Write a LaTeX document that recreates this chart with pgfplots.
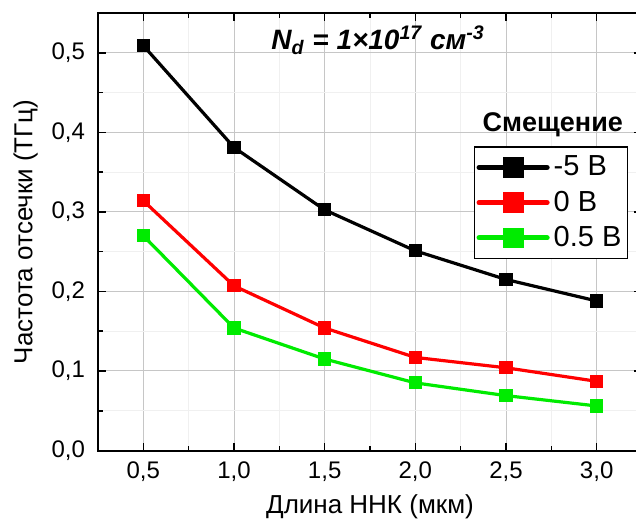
\documentclass[border=0pt]{standalone}
\usepackage{fontspec}
\setmainfont{Liberation Sans}
\usepackage{pgfplots}
\pgfplotsset{compat=1.18}

\definecolor{cgreen}{RGB}{0,235,0}
\definecolor{cred}{RGB}{255,0,0}

\begin{document}
\begin{tikzpicture}
\begin{axis}[
  scale only axis,
  width=272pt, height=218.75pt,
  xmin=0.25, xmax=3.25, ymin=0, ymax=0.55,
  xtick={0.5,1,...,3}, ytick={0,0.1,...,0.5},
  minor x tick num=1, minor y tick num=1,
  tick align=inside,
  major tick length=4pt, minor tick length=2.5pt,
  every tick/.style={black, line width=0.8pt},
  axis line style={line width=1pt},
  grid=both,
  major grid style={gray!45, line width=0.5pt},
  minor grid style={gray!12, line width=0.4pt},
  /pgf/number format/.cd, use comma, fixed, fixed zerofill, precision=1, assume math mode=true,
  /pgfplots/.cd,
  tick label style={font=\fontsize{12}{14}\selectfont},
  xticklabel style={yshift=-2pt},
  yticklabel style={xshift=-3pt},
  xlabel={Длина ННК (мкм)},
  ylabel={Частота отсечки (ТГц)},
  label style={font=\fontsize{13}{15}\selectfont},
  legend style={at={(0.691,0.695)}, anchor=north west, draw=black, line width=0.6pt,
    font=\fontsize{14.5}{16}\selectfont, row sep=2pt,
    inner xsep=1pt, inner ysep=2.5pt},
  legend cell align=left,
  legend image code/.code={
    \draw[line width=2.6pt, line cap=round] (0pt,0pt) -- (34pt,0pt);
    \fill (12.5pt,-4.3pt) rectangle (21.5pt,4.3pt);
  },
  clip=false,
]
\addplot[black, line width=1.6pt, mark=square*, mark size=2.5pt] coordinates {
  (0.5,0.509)(1.0,0.381)(1.5,0.3025)(2.0,0.251)(2.5,0.215)(3.0,0.188)
};
\addlegendentry{-5 В}
\addplot[cred, line width=1.6pt, mark=square*, mark size=2.5pt] coordinates {
  (0.5,0.314)(1.0,0.207)(1.5,0.154)(2.0,0.117)(2.5,0.104)(3.0,0.087)
};
\addlegendentry{0 В}
\addplot[cgreen, line width=1.6pt, mark=square*, mark size=2.5pt] coordinates {
  (0.5,0.270)(1.0,0.154)(1.5,0.115)(2.0,0.085)(2.5,0.069)(3.0,0.056)
};
\addlegendentry{0.5 В}
\node[font=\fontsize{13.5}{15}\selectfont\bfseries] at (axis description cs:0.836,0.744) {Смещение};
\node[font=\fontsize{14}{15}\selectfont\bfseries\itshape] at (axis description cs:0.515,0.938)
  {N\textsubscript{d} = 1×10\textsuperscript{17} см\textsuperscript{-3}};
\coordinate (bbsw) at (axis description cs:0,0);
\end{axis}
\pgfresetboundingbox
\useasboundingbox ([shift={(-49pt,-37.25pt)}]bbsw) rectangle ([shift={(269pt,225.25pt)}]bbsw);
\end{tikzpicture}
\end{document}
